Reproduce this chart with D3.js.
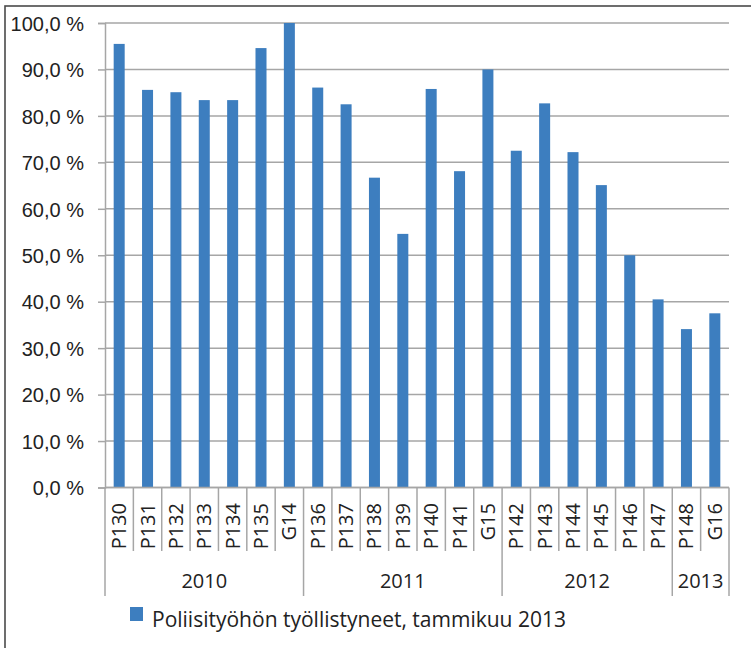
<!DOCTYPE html>
<html>
<head>
<meta charset="utf-8">
<script src="https://cdn.jsdelivr.net/npm/d3@7"></script>
<style>
  html, body { margin: 0; padding: 0; background: #fff; }
  svg { display: block; font-family: "Open Sans", sans-serif; }
  .ylab, .catlab, .yearlab, .legtext { fill: #222; font-size: 20px; }
  .legtext { font-size: 21px; }
</style>
</head>
<body>
<div id="chart"></div>
<script>
// categories (courses) and the share employed, %
var categories = ["P130","P131","P132","P133","P134","P135","G14",
                  "P136","P137","P138","P139","P140","P141","G15",
                  "P142","P143","P144","P145","P146","P147",
                  "P148","G16"];
var values = [95.5, 85.6, 85.1, 83.4, 83.4, 94.6, 100.0,
              86.1, 82.5, 66.7, 54.6, 85.8, 68.1, 90.0,
              72.5, 82.7, 72.2, 65.1, 50.0, 40.5,
              34.1, 37.5];
var yearLabels = ["2010", "2011", "2012", "2013"];
var yearCounts = [7, 7, 6, 2];
var yTicks = [0, 10, 20, 30, 40, 50, 60, 70, 80, 90, 100];
var legendLabel = "Poliisityöhön työllistyneet, tammikuu 2013";

var W = 751, H = 648;
var plotLeft = 105, plotRight = 729, plotTop = 23, plotBottom = 487.5;
var barColor = "#3d7ebf", gridColor = "#a6a6a6";

var svg = d3.select("#chart").append("svg").attr("width", W).attr("height", H);

// outer frame (only left and top edges are inside the picture)
svg.append("rect").attr("x", 5).attr("y", 6).attr("width", W + 20).attr("height", H + 20)
  .attr("fill", "none").attr("stroke", "#4a4a4a").attr("stroke-width", 1.6);

var y = d3.scaleLinear().domain([0, 100]).range([plotBottom, plotTop]);
var slot = d3.scaleBand().domain(categories).range([plotLeft, plotRight]).padding(0);
var x = d3.scaleBand().domain(categories).range([plotLeft, plotRight])
  .paddingInner(0.612).paddingOuter(0.306);

// gridlines
svg.append("g").selectAll("line").data(yTicks).enter().append("line")
  .attr("x1", plotLeft).attr("x2", plotRight)
  .attr("y1", function(d){ return y(d); }).attr("y2", function(d){ return y(d); })
  .attr("stroke", gridColor).attr("stroke-width", 1.5);

// y axis
var yAxis = d3.axisLeft(y).tickValues(yTicks).tickSize(7).tickPadding(14)
  .tickFormat(function(d){ return d.toFixed(1).replace(".", ",") + " %"; });
var gy = svg.append("g").attr("transform", "translate(" + plotLeft + ",0)").call(yAxis);
gy.select(".domain").attr("stroke", gridColor).attr("stroke-width", 1.5);
gy.selectAll(".tick line").attr("stroke", gridColor).attr("stroke-width", 1.5);
gy.selectAll(".tick text").attr("class", "ylab").attr("font-size", null)
  .attr("font-family", null).attr("fill", null).attr("dy", "0.36em");

// bars
svg.append("g").selectAll("rect").data(values).enter().append("rect")
  .attr("x", function(d, i){ return x(categories[i]); })
  .attr("width", x.bandwidth())
  .attr("y", function(d){ return y(d); })
  .attr("height", function(d){ return y(0) - y(d); })
  .attr("fill", barColor);

// bottom axis line
svg.append("line").attr("x1", plotLeft).attr("x2", plotRight)
  .attr("y1", plotBottom).attr("y2", plotBottom)
  .attr("stroke", gridColor).attr("stroke-width", 1.5);

// category separators and labels
var yearEnds = [], acc = 0;
yearCounts.forEach(function(c){ acc += c; yearEnds.push(acc); });
var seps = d3.range(categories.length + 1);
svg.append("g").selectAll("line").data(seps).enter().append("line")
  .attr("x1", function(i){ return plotLeft + i * slot.step(); })
  .attr("x2", function(i){ return plotLeft + i * slot.step(); })
  .attr("y1", plotBottom)
  .attr("y2", function(i){ return (i === 0 || yearEnds.indexOf(i) >= 0) ? 596 : 551; })
  .attr("stroke", gridColor).attr("stroke-width", 1.5);

svg.append("g").selectAll("text").data(categories).enter().append("text")
  .attr("class", "catlab")
  .attr("transform", function(d){
    return "translate(" + (slot(d) + slot.bandwidth() / 2 + 7) + ",503) rotate(-90)";
  })
  .attr("text-anchor", "end")
  .text(function(d){ return d; });

// year labels
var start = 0;
yearLabels.forEach(function(yr, k){
  var x0 = plotLeft + start * slot.step(), x1 = plotLeft + (start + yearCounts[k]) * slot.step();
  svg.append("text").attr("class", "yearlab")
    .attr("x", (x0 + x1) / 2).attr("y", 588)
    .attr("text-anchor", "middle").text(yr);
  start += yearCounts[k];
});

// legend
svg.append("rect").attr("x", 130).attr("y", 607).attr("width", 13).attr("height", 14)
  .attr("fill", barColor);
svg.append("text").attr("class", "legtext").attr("x", 152).attr("y", 627).text(legendLabel);
</script>
</body>
</html>
